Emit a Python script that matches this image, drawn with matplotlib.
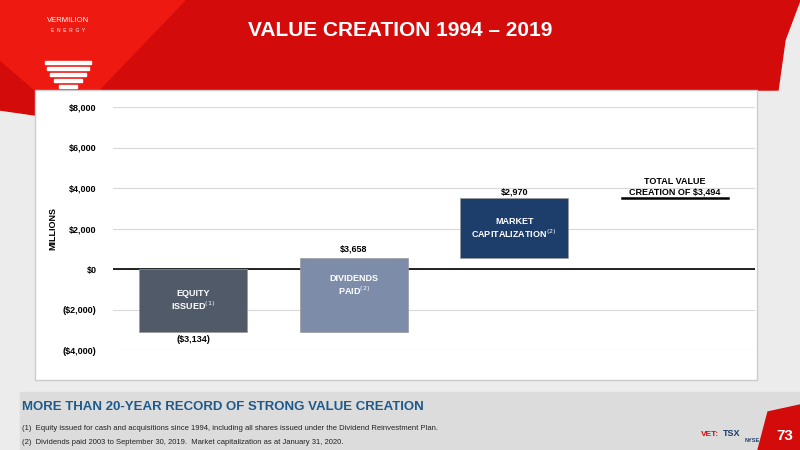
import matplotlib.pyplot as plt
from matplotlib.patches import Polygon, Rectangle

labels = ["EQUITY\nISSUED$^{(1)}$", "DIVIDENDS\nPAID$^{(2)}$", "MARKET\nCAPITALIZATION$^{(2)}$"]
starts = [0, -3134, 524]
ends = [-3134, 524, 3494]
value_labels = ["($3,134)", "$3,658", "$2,970"]
total = 3494
yticks = [-4000, -2000, 0, 2000, 4000, 6000, 8000]
ytick_labels = ["($4,000)", "($2,000)", "$0", "$2,000", "$4,000", "$6,000", "$8,000"]
colors = ["#505a68", "#7d8ca8", "#1d3d6b"]

FONT = "Liberation Sans"
fig = plt.figure(figsize=(8, 4.5), dpi=100)
fig.patch.set_facecolor("#ececec")

def px(x, y):
    return (x / 800, 1 - y / 450)

# header
fig.patches.append(Polygon([px(0, 0), px(800, 0), px(785, 40), px(778, 90), px(100, 92), px(70, 120), px(0, 110)],
                           closed=True, transform=fig.transFigure, color="#d40b0b", zorder=0))
fig.patches.append(Polygon([px(0, 0), px(185, 0), px(70, 120), px(0, 60)],
                           closed=True, transform=fig.transFigure, color="#ee1a12", zorder=0))
fig.text(*px(68, 20), "VERMILION", color="white", fontsize=5.5, ha="center", va="center", family=FONT)
fig.text(*px(68, 30), "E  N  E  R  G  Y", color="white", fontsize=3.5, ha="center", va="center", family=FONT)
for i, w in enumerate([46, 42, 36, 28, 18]):
    fig.patches.append(Rectangle(px(68 - w / 2, 64 + i * 6), w / 800, 3 / 450, transform=fig.transFigure,
                                 color="white", zorder=1))
fig.text(*px(400, 30), "VALUE CREATION 1994 – 2019", color="white", fontsize=15, fontweight="bold",
         ha="center", va="center", family=FONT)

# white chart panel
fig.patches.append(Rectangle(px(35, 380), 722 / 800, 290 / 450, transform=fig.transFigure,
                             facecolor="white", edgecolor="#cccccc", zorder=0))

# footer band
fig.patches.append(Rectangle(px(20, 450), 780 / 800, 58 / 450, transform=fig.transFigure,
                             color="#dcdcdc", zorder=0))
fig.patches.append(Polygon([px(768, 412), px(800, 405), px(800, 450), px(758, 450)], closed=True,
                           transform=fig.transFigure, color="#d40b0b", zorder=1))
fig.text(*px(785, 436), "73", color="white", fontsize=11, fontweight="bold", ha="center", va="center", family=FONT)
fig.text(*px(22, 407), "MORE THAN 20-YEAR RECORD OF STRONG VALUE CREATION", color="#1f5a8c", fontsize=9.5,
         fontweight="bold", va="center", family=FONT)
fig.text(*px(22, 429), "(1)  Equity issued for cash and acquisitions since 1994, including all shares issued under the Dividend Reinvestment Plan.",
         fontsize=5.5, va="center", color="#222222", family=FONT)
fig.text(*px(22, 442), "(2)  Dividends paid 2003 to September 30, 2019.  Market capitalization as at January 31, 2020.",
         fontsize=5.5, va="center", color="#222222", family=FONT)
fig.text(*px(710, 434), "VET:", color="#d40b0b", fontsize=6, fontweight="bold", ha="center", va="center", family=FONT)
fig.text(*px(732, 434), "TSX", color="#1d3d6b", fontsize=6.5, fontweight="bold", ha="center", va="center", family=FONT)
fig.text(*px(752, 441), "NYSE", color="#1d3d6b", fontsize=4, fontweight="bold", ha="center", va="center", family=FONT)

# chart
ax = fig.add_axes([113 / 800, 1 - 350 / 450, 642 / 800, 243 / 450])
ax.set_zorder(5)
ax.set_facecolor("none")
x = list(range(len(labels)))
for i in x:
    lo, hi = min(starts[i], ends[i]), max(starts[i], ends[i])
    ax.bar(i, hi - lo, bottom=lo, width=0.67, color=colors[i], edgecolor="#999999", linewidth=0.5, zorder=3)
    mid = (lo + hi) / 2 if i != 1 else (lo + hi) / 2 + 500
    ax.text(i, mid, labels[i], color="white", fontsize=6.5, fontweight="bold", ha="center", va="center",
            family=FONT, zorder=4)
ax.text(0, ends[0] - 120, value_labels[0], fontsize=6.5, fontweight="bold", ha="center", va="top", family=FONT)
ax.text(1, ends[1] + 250, value_labels[1], fontsize=6.5, fontweight="bold", ha="center", va="bottom", family=FONT)
ax.text(2, ends[2] + 80, value_labels[2], fontsize=6.5, fontweight="bold", ha="center", va="bottom", family=FONT)
ax.plot([2.67, 3.33], [total, total], color="black", lw=1.8, zorder=3)
ax.text(3.0, total + 80, "TOTAL VALUE\nCREATION OF $3,494", fontsize=6.5, fontweight="bold", ha="center",
        va="bottom", family=FONT, linespacing=1.2)
ax.axhline(0, color="black", lw=1.2, zorder=2)
ax.set_xlim(-0.5, 3.5)
ax.set_ylim(-4000, 8000)
ax.set_yticks(yticks)
ax.set_yticklabels(ytick_labels, fontsize=6.5, fontweight="bold", family=FONT)
ax.yaxis.grid(True, color="#d9d9d9", lw=0.8, zorder=0)
ax.set_xticks([])
ax.tick_params(axis="y", length=0, pad=12)
for s in ax.spines.values():
    s.set_visible(False)
ax.set_ylabel("MILLIONS", fontsize=6.5, fontweight="bold", family=FONT, labelpad=4)

fig.savefig("out.png", dpi=100)
